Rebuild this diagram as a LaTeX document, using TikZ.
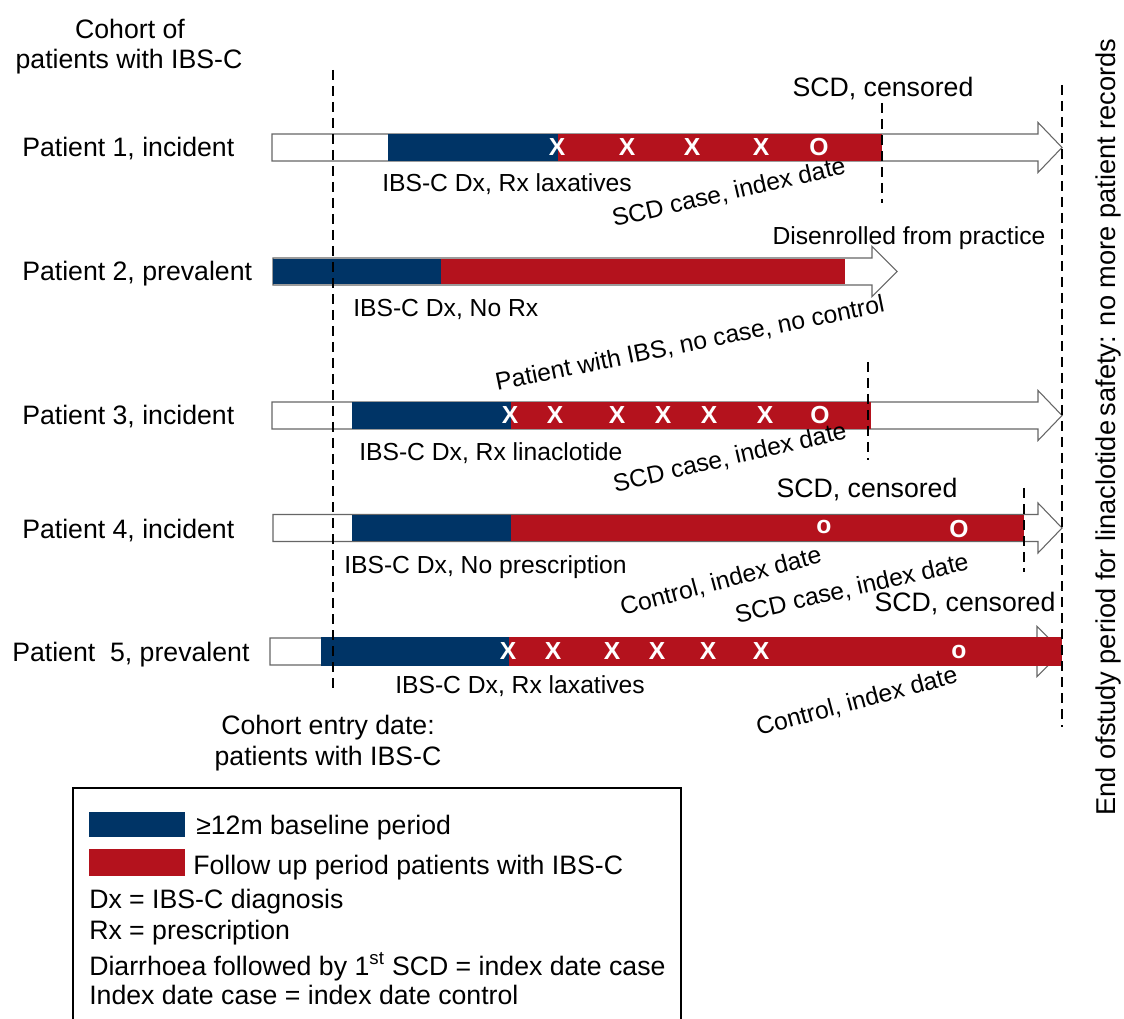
\documentclass[tikz,border=0pt]{standalone}
\usepackage{fontspec}
\setmainfont{Liberation Sans}
\definecolor{bblue}{HTML}{003466}
\definecolor{bred}{HTML}{B4121D}
\tikzset{
  lbl/.style={inner sep=0pt, font=\fontsize{20}{24}\selectfont},
  sml/.style={inner sep=0pt, font=\fontsize{18.5}{22}\selectfont},
  mk/.style={inner sep=0pt, text=white, font=\fontsize{18.5}{20}\selectfont\bfseries},
  arrowline/.style={draw=black!60, fill=white, line width=0.8pt},
  vdash/.style={draw=black, line width=1.5pt, dash pattern=on 7.5pt off 4.5pt},
  blueseg/.style={fill=bblue},
  redseg/.style={fill=bred},
}
\newcommand\tlarrow[4]{%
  \draw[arrowline] ({#1},{#4-13.5}) -- ({#2},{#4-13.5}) -- ({#2},{#4-25}) -- ({#3},{#4})
    -- ({#2},{#4+25}) -- ({#2},{#4+13.5}) -- ({#1},{#4+13.5}) -- cycle;}
\begin{document}
\begin{tikzpicture}[x=0.75pt,y=-0.75pt]
\useasboundingbox[fill=white] (0,0) rectangle (1124,1019);

% header
\node[lbl, anchor=base] (hd1) at (130,39) {Cohort of};
\node[lbl, anchor=base] (hd2) at (129,69) {patients with IBS-C};

% ---------- Patient 1
\node[lbl, anchor=base west] (p1) at (22,157) {Patient 1, incident};
\tlarrow{272}{1038}{1062}{147.5}
\fill[blueseg] (388,134) rectangle (558,161);
\fill[redseg] (558,134) rectangle (882,161);
\node[mk] (m11) at (557,147.5) {X};
\node[mk] (m12) at (627,147.5) {X};
\node[mk] (m13) at (692,147.5) {X};
\node[mk] (m14) at (761,147.5) {X};
\node[mk] (m15) at (819,147.5) {O};
\node[sml, anchor=base west] (u1) at (382,192) {IBS-C Dx, Rx laxatives};
\node[lbl, anchor=base] (c1) at (883,97) {SCD, censored};
\node[sml, rotate=13] (r1) at (729,193) {SCD case, index date};

% ---------- Patient 2
\node[sml, anchor=base] (dis) at (909,245) {Disenrolled from practice};
\node[lbl, anchor=base west] (p2) at (22,281) {Patient 2, prevalent};
\tlarrow{273}{872}{897}{271.5}
\fill[blueseg] (273,259) rectangle (441,284);
\fill[redseg] (441,259) rectangle (845,284);
\node[sml, anchor=base west] (u2) at (353,317) {IBS-C Dx, No Rx};
\node[sml, rotate=11.5] (r2) at (690,344) {Patient with IBS, no case, no control};

% ---------- Patient 3
\node[lbl, anchor=base west] (p3) at (22,425) {Patient 3, incident};
\tlarrow{272}{1038}{1062}{415.5}
\fill[blueseg] (352,402) rectangle (511,429);
\fill[redseg] (511,402) rectangle (871,429);
\node[mk] (m31) at (510,415.5) {X};
\node[mk] (m32) at (555,415.5) {X};
\node[mk] (m33) at (617,415.5) {X};
\node[mk] (m34) at (663,415.5) {X};
\node[mk] (m35) at (709,415.5) {X};
\node[mk] (m36) at (765,415.5) {X};
\node[mk] (m37) at (820,415.5) {O};
\node[sml, anchor=base west] (u3) at (359,460) {IBS-C Dx, Rx linaclotide};
\node[sml, rotate=13] (r3) at (730,458) {SCD case, index date};

% ---------- Patient 4
\node[lbl, anchor=base] (c4) at (867,498) {SCD, censored};
\node[lbl, anchor=base west] (p4) at (22,538) {Patient 4, incident};
\tlarrow{273}{1038}{1062}{528}
\fill[blueseg] (352,515) rectangle (511,541);
\fill[redseg] (511,515) rectangle (1024,541);
\node[mk] (m41) at (824,527) {o};
\node[mk] (m42) at (959,529) {O};
\node[sml, anchor=base west] (u4) at (344,573) {IBS-C Dx, No prescription};
\node[sml, rotate=15] (r4a) at (721,582) {Control, index date};
\node[sml, rotate=13] (r4b) at (852,589) {SCD case, index date};

% ---------- Patient 5
\node[lbl, anchor=base] (c5) at (965,611) {SCD, censored};
\node[lbl, anchor=base west] (p5) at (12,661) {Patient\ \ 5, prevalent};
\tlarrow{270}{1037}{1062}{651.5}
\fill[blueseg] (321,637) rectangle (509,666);
\fill[redseg] (509,637) rectangle (1062,666);
\node[mk] (m51) at (508,651.5) {X};
\node[mk] (m52) at (553,651.5) {X};
\node[mk] (m53) at (612,651.5) {X};
\node[mk] (m54) at (657,651.5) {X};
\node[mk] (m55) at (708,651.5) {X};
\node[mk] (m56) at (761,651.5) {X};
\node[mk] (m57) at (959,651.5) {o};
\node[sml, anchor=base west] (u5) at (395,693) {IBS-C Dx, Rx laxatives};
\node[sml, rotate=15] (r5) at (857,702) {Control, index date};

% cohort entry
\node[lbl, anchor=base] (ce1) at (328,734) {Cohort entry date:};
\node[lbl, anchor=base] (ce2) at (328,765) {patients with IBS-C};

% dashed lines
\coordinate (d1a) at (333,70);  \coordinate (d1b) at (333,692);
\coordinate (d2a) at (1062,85); \coordinate (d2b) at (1062,727);
\coordinate (d3a) at (882,103); \coordinate (d3b) at (882,203);
\coordinate (d4a) at (868,362); \coordinate (d4b) at (868,460);
\coordinate (d5a) at (1024,488); \coordinate (d5b) at (1024,572);
\draw[vdash] (d1a) -- (d1b);
\draw[vdash] (d2a) -- (d2b);
\draw[vdash] (d3a) -- (d3b);
\draw[vdash] (d4a) -- (d4b);
\draw[vdash] (d5a) -- (d5b);

% right vertical text
\node[inner sep=0pt, font=\fontsize{20.4}{24}\selectfont, rotate=90] (endtxt) at (1108,427) {End ofstudy period for linaclotide\,safety: no more patient records};

% legend
\draw[line width=1.1pt] (73,1025) -- (73,788) -- (681,788) -- (681,1025);
\fill[blueseg] (89,812) rectangle (185,837);
\fill[redseg] (89,849) rectangle (185,876);
\node[lbl, anchor=base west] (lg1) at (196,834) {≥12m baseline period};
\node[lbl, anchor=base west] (lg2) at (193,874) {Follow up period patients with IBS-C};
\node[lbl, anchor=base west] (lg3) at (89,908) {Dx = IBS-C diagnosis};
\node[lbl, anchor=base west] (lg4) at (89,939) {Rx = prescription};
\node[lbl, anchor=base west] (lg5) at (89,975) {Diarrhoea followed by 1\textsuperscript{st} SCD = index date case};
\node[lbl, anchor=base west] (lg6) at (89,1004) {Index date case = index date control};
\end{tikzpicture}
\end{document}
